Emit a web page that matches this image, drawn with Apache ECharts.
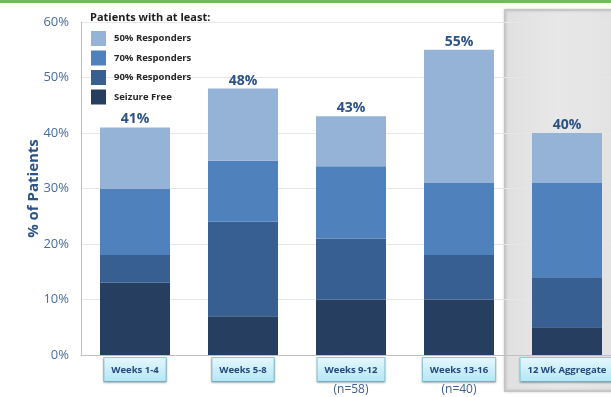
<!DOCTYPE html>
<html>
<head>
<meta charset="utf-8">
<script src="https://cdn.jsdelivr.net/npm/echarts@6/dist/echarts.min.js"></script>
<style>
  html, body { margin: 0; padding: 0; background: #fff; }
  #chart { width: 611px; height: 397px; }
</style>
</head>
<body>
<div id="chart"></div>
<script>
// 分类
var categories = ['Weeks 1-4', 'Weeks 5-8', 'Weeks 9-12', 'Weeks 13-16', '12 Wk Aggregate']
var sampleNotes = ['', '', '(n=58)', '(n=40)', '']
// 每段高度 (%), 从下往上叠
var seizureFree = [13, 7, 10, 10, 5]
var resp90 = [5, 17, 11, 8, 9]
var resp70 = [12, 11, 13, 13, 17]
var resp50 = [11, 13, 9, 24, 9]
var totals = [41, 48, 43, 55, 40]
var yTicks = [0, 10, 20, 30, 40, 50, 60]

var chart = echarts.init(document.getElementById('chart'))

var boxStyle = {
    fontFamily: 'Open Sans',
    fontSize: 9.5,
    fontWeight: 'bold',
    color: '#24487a',
    backgroundColor: {
        type: 'linear', x: 0, y: 0, x2: 0, y2: 1,
        colorStops: [{ offset: 0, color: '#e6f8fd' }, { offset: 1, color: '#b3e6f5' }]
    },
    borderColor: '#8ccfe3',
    borderWidth: 1,
    padding: [7, 7, 6, 7],
    shadowColor: 'rgba(0,0,0,0.25)',
    shadowBlur: 2,
    shadowOffsetY: 1
}

function makeSeries (name, data, color, last) {
    var s = {
        name: name,
        type: 'bar',
        stack: 'all',
        barWidth: 70,
        itemStyle: { color: color },
        data: data
    }
    if (last) {
        s.label = {
            show: true,
            position: 'top',
            distance: 1,
            fontFamily: 'Open Sans',
            fontSize: 14,
            fontWeight: 'bold',
            color: '#2c5286',
            formatter: function (p) { return totals[p.dataIndex] + '%' }
        }
    }
    return s
}

var option = {
    animation: false,
    title: {
        text: 'Patients with at least:',
        left: 85,
        top: 7,
        textStyle: { fontFamily: 'Open Sans', fontSize: 11, fontWeight: 'bold', color: '#1c1c1c' }
    },
    legend: {
        orient: 'vertical',
        left: 86,
        top: 26,
        itemWidth: 15,
        itemHeight: 15,
        itemGap: 4.5,
        icon: 'rect',
        textStyle: { fontFamily: 'Open Sans', fontSize: 9.5, fontWeight: 'bold', color: '#262626', padding: [0, 0, 0, 3] },
        data: ['50% Responders', '70% Responders', '90% Responders', 'Seizure Free']
    },
    graphic: [
        {
            type: 'rect',
            z: -10,
            shape: { x: 0, y: 0, width: 611, height: 3 },
            style: { fill: '#6fbd5a' }
        },
        {
            type: 'rect',
            z: -10,
            shape: { x: 505, y: 10, width: 112, height: 381 },
            style: {
                fill: {
                    type: 'linear', x: 0, y: 0, x2: 1, y2: 0,
                    colorStops: [{ offset: 0, color: '#e0e0e0' }, { offset: 0.5, color: '#e8e8e8' }, { offset: 1, color: '#e2e2e2' }]
                },
                stroke: '#c6c6c6',
                lineWidth: 2,
                shadowColor: 'rgba(0,0,0,0.15)',
                shadowBlur: 3
            }
        }
    ],
    grid: {
        left: 81,
        right: -10,
        top: 22,
        bottom: 42,
        outerBoundsMode: 'none'
    },
    xAxis: {
        type: 'category',
        data: categories,
        axisLine: { lineStyle: { color: '#bfbfbf' } },
        axisTick: { show: false },
        axisLabel: {
            margin: 3,
            interval: 0,
            formatter: function (v, i) {
                var s = '{box|' + v + '}'
                if (sampleNotes[i]) s += '\n{n|' + sampleNotes[i] + '}'
                return s
            },
            rich: {
                box: boxStyle,
                n: { fontFamily: 'Open Sans', fontSize: 12, color: '#3d5f8f', padding: [3, 0, 0, 0] }
            }
        }
    },
    yAxis: {
        type: 'value',
        min: 0,
        max: 60,
        interval: 10,
        name: '% of Patients',
        nameLocation: 'middle',
        nameGap: 40,
        nameMoveOverlap: false,
        nameTextStyle: { fontFamily: 'Open Sans', fontSize: 15, fontWeight: 'bold', color: '#2c5286' },
        axisLine: { show: true, lineStyle: { color: '#bfbfbf' } },
        axisTick: { show: false },
        axisLabel: {
            margin: 12,
            fontFamily: 'Open Sans',
            fontSize: 13,
            color: '#4a6b9c',
            formatter: function (v) { return yTicks.indexOf(v) >= 0 ? v + '%' : '' }
        },
        splitLine: { lineStyle: { color: '#e6e6e6' } }
    },
    series: [
        makeSeries('Seizure Free', seizureFree, '#263f60'),
        makeSeries('90% Responders', resp90, '#375f92'),
        makeSeries('70% Responders', resp70, '#4f81bd'),
        makeSeries('50% Responders', resp50, '#95b3d7', true)
    ]
}

chart.setOption(option)
</script>
</body>
</html>
